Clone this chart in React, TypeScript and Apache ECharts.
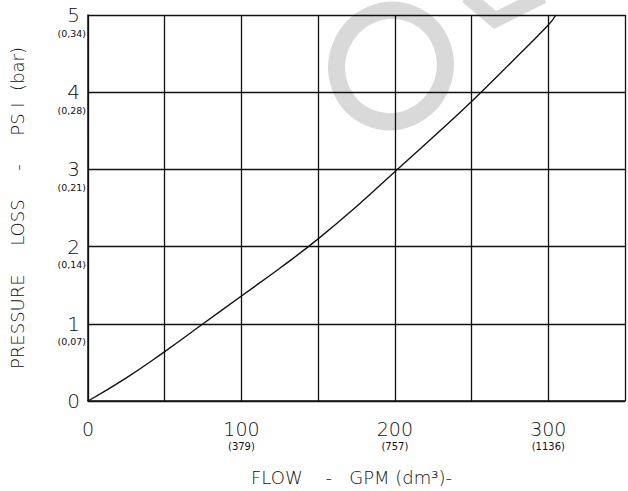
import React, { useEffect, useRef } from "react";
import * as echarts from "echarts";

const flowGpm = [0, 25, 50, 75, 100, 125, 150, 175, 200, 225, 250, 275, 300, 305];
const pressurePsi = [0, 0.3, 0.64, 1.0, 1.36, 1.72, 2.1, 2.52, 2.97, 3.42, 3.88, 4.37, 4.87, 5.0];

const xTickValues = [0, 100, 200, 300];
const xTickLabels = ["0", "100", "200", "300"];
const xTickSub = ["", "(379)", "(757)", "(1136)"];

const yTickValues = [0, 1, 2, 3, 4, 5];
const yTickLabels = ["0", "1", "2", "3", "4", "5"];
const yTickSub = ["", "(0,07)", "(0,14)", "(0,21)", "(0,28)", "(0,34)"];

const FONT = "'DejaVu Sans', sans-serif";

export default function App() {
  const ref = useRef<HTMLDivElement>(null);
  useEffect(() => {
    const chart = echarts.init(ref.current!, null, { renderer: "svg" });
    const ink = "#111";
    const gray = "#d9d9d9";
    chart.setOption({
      animation: false,
      backgroundColor: "#fff",
      grid: { left: 88, top: 15, width: 542, bottom: 90, containLabel: false },
      graphic: {
        z: -10,
        elements: [
          {
            type: "ellipse",
            z: -10,
            x: 391,
            y: 66,
            rotation: -0.4,
            shape: { cx: 0, cy: 0, rx: 54, ry: 56 },
            style: { fill: "none", stroke: gray, lineWidth: 17 },
          },
          {
            type: "polyline",
            z: -10,
            shape: { points: [[467, -4], [495, 20], [543, -4]] },
            style: { fill: "none", stroke: gray, lineWidth: 15 },
          },
        ],
      },
      xAxis: {
        type: "value",
        z: 5,
        min: 0,
        max: 350,
        interval: 50,
        name: "FLOW    -   GPM (dm³)-",
        nameLocation: "middle",
        nameGap: 67,
        nameTextStyle: { color: ink, fontSize: 18, fontFamily: FONT, fontWeight: 200, padding: [0, 10, 0, 0] },
        axisLine: { show: true, onZero: false, lineStyle: { color: ink, width: 1.5 } },
        axisTick: { show: false },
        splitLine: { show: true, lineStyle: { color: ink, width: 1.3 } },
        axisLabel: {
          margin: 18,
          color: ink,
          formatter: (v: number) => {
            const i = xTickValues.indexOf(v);
            if (i < 0) return "";
            return xTickSub[i] ? `{a|${xTickLabels[i]}}\n{b|${xTickSub[i]}}` : `{a|${xTickLabels[i]}}`;
          },
          rich: {
            a: { fontSize: 19, lineHeight: 20, fontFamily: FONT, fontWeight: 200, color: ink },
            b: { fontSize: 10, lineHeight: 14, fontFamily: FONT, color: ink },
          },
        },
      },
      yAxis: [
        {
          type: "value",
          z: 5,
          min: 0,
          max: 5,
          interval: 1,
          name: "PRESSURE     LOSS     -     PS I  (bar)",
          nameLocation: "middle",
          nameRotate: 90,
          nameGap: 62,
          nameTextStyle: { color: ink, fontSize: 18, fontFamily: FONT, fontWeight: 200 },
          axisLine: { show: true, onZero: false, lineStyle: { color: ink, width: 1.5 } },
          axisTick: { show: false },
          splitLine: { show: true, lineStyle: { color: ink, width: 1.3 } },
          axisLabel: {
            margin: 8,
            color: ink,
            fontSize: 20,
            fontFamily: FONT,
            fontWeight: 200,
            formatter: (v: number) => {
              const i = yTickValues.indexOf(v);
              return i < 0 ? "" : yTickLabels[i];
            },
          },
        },
        {
          type: "value",
          z: 5,
          min: 0,
          max: 5,
          interval: 1,
          position: "left",
          axisLine: { show: false },
          axisTick: { show: false },
          splitLine: { show: false },
          axisLabel: {
            margin: 2,
            color: ink,
            fontSize: 9.5,
            fontFamily: FONT,
            verticalAlign: "top",
            padding: [13, 0, 0, 0],
            formatter: (v: number) => {
              const i = yTickValues.indexOf(v);
              return i < 0 ? "" : yTickSub[i];
            },
          },
        },
      ],
      series: [
        {
          type: "line",
          z: 6,
          data: flowGpm.map((x, i) => [x, pressurePsi[i]]),
          smooth: true,
          showSymbol: false,
          lineStyle: { color: ink, width: 1.4 },
          clip: false,
        },
      ],
    });
    return () => chart.dispose();
  }, []);
  return <div ref={ref} style={{ width: 628, height: 491, position: "absolute", left: 0, top: 0 }} />;
}
